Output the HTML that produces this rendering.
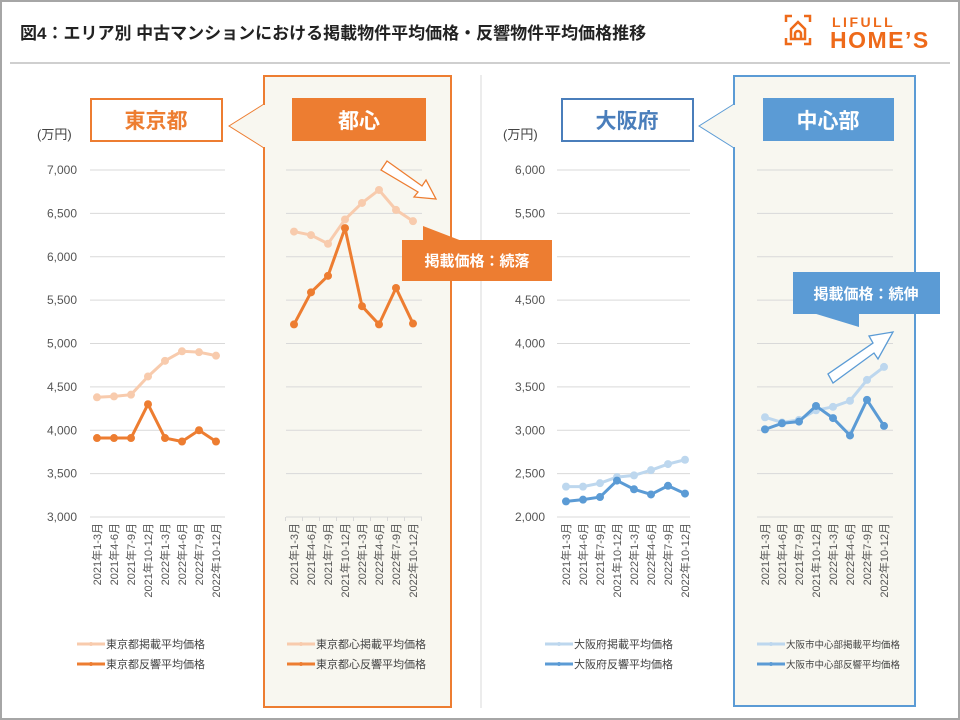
<!DOCTYPE html>
<html><head><meta charset="utf-8"><style>
html,body{margin:0;padding:0;background:#fff}
svg{display:block}
text{font-family:"Liberation Sans","Noto Sans CJK JP",sans-serif}
</style></head><body>
<svg id="chart" width="960" height="720" viewBox="0 0 960 720" xmlns="http://www.w3.org/2000/svg">
<rect x="1" y="1" width="958" height="718" fill="#fff" stroke="#a6a6a6" stroke-width="2"/>
<text x="20" y="39" font-size="17" font-weight="bold" fill="#222">図4：エリア別 中古マンションにおける掲載物件平均価格・反響物件平均価格推移</text>
<g fill="none" stroke="#ee6a1a" stroke-width="2.5">
<path d="M786 22v-6h6M804 16h6v6M786 38v6h6M804 44h6v-6"/>
<path d="M791 39v-10l7-7 7 7v10zM795 39v-5a3 3 0 0 1 6 0v5"/>
</g>
<text x="832" y="27" font-size="14" font-weight="bold" fill="#ee6a1a" letter-spacing="2.5">LIFULL</text>
<text x="830" y="48" font-size="23" font-weight="bold" fill="#ee6a1a" letter-spacing="1.5">HOME’S</text>
<line x1="10" y1="63" x2="950" y2="63" stroke="#bfbfbf" stroke-width="1.5"/>
<line x1="481" y1="75" x2="481" y2="708" stroke="#d9d9d9" stroke-width="1"/>
<rect x="264" y="76" width="187" height="631" fill="#f8f7f0" stroke="#ed7d31" stroke-width="2"/>
<rect x="734" y="76" width="181" height="630" fill="#f8f7f0" stroke="#5b9bd5" stroke-width="2"/>
<g id="plots"></g>
<rect x="91" y="99" width="131" height="42" fill="#fff" stroke="#ed7d31" stroke-width="2"/>
<text x="156" y="128" font-size="21" font-weight="bold" fill="#ed7d31" text-anchor="middle">東京都</text>
<polygon points="264,104 229,126 264,148" fill="#f8f7f0" stroke="#ed7d31" stroke-width="1"/>
<rect x="263" y="105" width="3" height="42" fill="#f8f7f0"/>
<rect x="292" y="98" width="134" height="43" fill="#ed7d31"/>
<text x="359" y="128" font-size="21" font-weight="bold" fill="#fff" text-anchor="middle">都心</text>
<rect x="562" y="99" width="131" height="42" fill="#fff" stroke="#4a7ebb" stroke-width="2"/>
<text x="627" y="128" font-size="21" font-weight="bold" fill="#4a7ebb" text-anchor="middle">大阪府</text>
<polygon points="734,104 699,126 734,148" fill="#f8f7f0" stroke="#5b9bd5" stroke-width="1"/>
<rect x="733" y="105" width="3" height="42" fill="#f8f7f0"/>
<rect x="763" y="98" width="131" height="43" fill="#5b9bd5"/>
<text x="828" y="128" font-size="21" font-weight="bold" fill="#fff" text-anchor="middle">中心部</text>
<text x="37" y="139" font-size="13" fill="#444">(万円)</text>
<text x="503" y="139" font-size="13" fill="#444">(万円)</text>
<polygon points="381,170 387,161 422,186 426,180 436,199 414,197 418,192" fill="#fff" stroke="#ed7d31" stroke-width="1.3"/>
<polygon points="828,374 833,383 874,353 878,359 893,332 869,336 873,343" fill="#fff" stroke="#5b9bd5" stroke-width="1.3"/>
<polygon points="423,226 462,241 423,241" fill="#ed7d31"/>
<rect x="402" y="240" width="150" height="41" fill="#ed7d31"/>
<text x="477" y="266" font-size="15" font-weight="bold" fill="#fff" text-anchor="middle">掲載価格：続落</text>
<polygon points="859,327 859,313 813,313" fill="#5b9bd5"/>
<rect x="793" y="272" width="147" height="42" fill="#5b9bd5"/>
<text x="866" y="299" font-size="15" font-weight="bold" fill="#fff" text-anchor="middle">掲載価格：続伸</text>
</svg>
<script>
const categories = ["2021年1-3月","2021年4-6月","2021年7-9月","2021年10-12月","2022年1-3月","2022年4-6月","2022年7-9月","2022年10-12月"];
const tokyoListing = [4380,4390,4410,4620,4800,4910,4900,4860];
const tokyoResponse = [3910,3910,3910,4300,3910,3870,4000,3870];
const toshinListing = [6290,6250,6150,6430,6620,6770,6540,6410];
const toshinResponse = [5220,5590,5780,6330,5430,5220,5640,5230];
const osakaListing = [2350,2350,2390,2460,2480,2540,2610,2660];
const osakaResponse = [2180,2200,2230,2420,2320,2260,2360,2270];
const osakaCenterListing = [3150,3090,3120,3230,3270,3340,3580,3730];
const osakaCenterResponse = [3010,3080,3100,3280,3140,2940,3350,3050];
const tokyoTicks = [3000,3500,4000,4500,5000,5500,6000,6500,7000];
const osakaTicks = [2000,2500,3000,3500,4000,4500,5000,5500,6000];
const tokyoLegend = ["東京都掲載平均価格","東京都反響平均価格"];
const toshinLegend = ["東京都心掲載平均価格","東京都心反響平均価格"];
const osakaLegend = ["大阪府掲載平均価格","大阪府反響平均価格"];
const osakaCenterLegend = ["大阪市中心部掲載平均価格","大阪市中心部反響平均価格"];

const NS="http://www.w3.org/2000/svg";
const root=document.getElementById('plots');
function mk(tag,attrs,parent){const e=document.createElementNS(NS,tag);for(const k in attrs)e.setAttribute(k,attrs[k]);(parent||root).appendChild(e);return e;}

function panel(cfg){
  const min=cfg.ticks[0],max=cfg.ticks[cfg.ticks.length-1];
  const y=v=>517-(v-min)/(max-min)*347;
  const x=i=>cfg.x0+i*17;
  const g=mk('g',{});
  
  
  cfg.ticks.forEach(t=>{
    const l=mk('line',{x1:cfg.gx1,x2:cfg.gx2,y1:y(t),y2:y(t),stroke:'#d9d9d9','stroke-width':1},g);
    
    
    if(cfg.labels){
      const tx=mk('text',{x:cfg.lx,y:y(t)+4,'font-size':12,fill:'#555','text-anchor':'end'},g);
      tx.textContent=t.toLocaleString('en-US');
      
      
    }
  });
  if(cfg.tickmarks){
    categories.forEach((c,i)=>{mk('line',{x1:x(i)-8.5,x2:x(i)-8.5,y1:517,y2:521,stroke:'#d9d9d9'},g);});
    mk('line',{x1:x(7)+8.5,x2:x(7)+8.5,y1:517,y2:521,stroke:'#d9d9d9'},g);
  }
  categories.forEach((c,i)=>{
    const t=mk('text',{x:0,y:0,'font-size':11,fill:'#555','text-anchor':'end',transform:`translate(${x(i)+4},523) rotate(-90)`},g);
    t.textContent=c;
    
    
  });
  [[cfg.listing,cfg.c1],[cfg.response,cfg.c2]].forEach(([arr,col],si)=>{
    const p=mk('polyline',{points:arr.map((v,i)=>x(i)+','+y(v)).join(' '),fill:'none',stroke:col,'stroke-width':3,'stroke-linejoin':'round'},g);
    
    
    arr.forEach((v,i)=>{
      const c=mk('circle',{cx:x(i),cy:y(v),r:4,fill:col},g);
      
      
    });
  });
  cfg.legend.forEach((s,i)=>{
    const ly=644+i*20;
    const col=i?cfg.c2:cfg.c1;
    mk('line',{x1:cfg.legx,x2:cfg.legx+28,y1:ly,y2:ly,stroke:col,'stroke-width':3},g);
    mk('circle',{cx:cfg.legx+14,cy:ly,r:2,fill:col},g);
    const t=mk('text',{x:cfg.legx+29,y:ly+4,'font-size':cfg.lfs,fill:'#444'},g);
    t.textContent=s;
    
    
  });
}
panel({name:'tokyo',ticks:tokyoTicks,x0:97,gx1:90,gx2:225,labels:true,lx:77,listing:tokyoListing,response:tokyoResponse,c1:'#f8cbad',c2:'#ed7d31',legend:tokyoLegend,legx:77,lfs:11});
panel({name:'toshin',ticks:tokyoTicks,x0:294,gx1:286,gx2:422,labels:false,tickmarks:true,listing:toshinListing,response:toshinResponse,c1:'#f8cbad',c2:'#ed7d31',legend:toshinLegend,legx:287,lfs:11});
panel({name:'osaka',ticks:osakaTicks,x0:566,gx1:557,gx2:690,labels:true,lx:545,listing:osakaListing,response:osakaResponse,c1:'#bdd7ee',c2:'#5b9bd5',legend:osakaLegend,legx:545,lfs:11});
panel({name:'osaka-center',ticks:osakaTicks,x0:765,gx1:757,gx2:893,labels:false,listing:osakaCenterListing,response:osakaCenterResponse,c1:'#bdd7ee',c2:'#5b9bd5',legend:osakaCenterLegend,legx:757,lfs:9.5});
</script>
</body></html>
